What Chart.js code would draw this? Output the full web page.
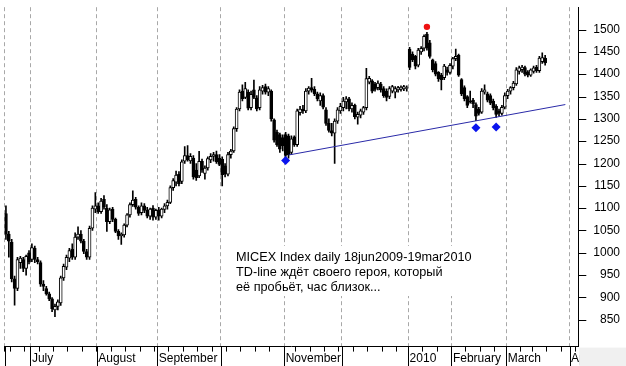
<!DOCTYPE html>
<html>
<head>
<meta charset="utf-8">
<script src="https://cdn.jsdelivr.net/npm/chart.js@4.4.1/dist/chart.umd.min.js"></script>
<style>
  html, body { margin: 0; padding: 0; background: #fff; }
  #wrap { width: 626px; height: 366px; }
</style>
</head>
<body>
<div id="wrap"><canvas id="micexChart" width="626" height="366"></canvas></div>
<script>
// trading days per month: [year, month, days]
const tradingDays = [
  [2009, 6, [18,19,22,23,24,25,26,29,30]],
  [2009, 7, [1,2,3,6,7,8,9,10,13,14,15,16,17,20,21,22,23,24,27,28,29,30,31]],
  [2009, 8, [3,4,5,6,7,10,11,12,13,14,17,18,19,20,21,24,25,26,27,28,31]],
  [2009, 9, [1,2,3,4,7,8,9,10,11,14,15,16,17,18,21,22,23,24,25,28,29,30]],
  [2009, 10, [1,2,5,6,7,8,9,12,13,14,15,16,19,20,21,22,23,26,27,28,29,30]],
  [2009, 11, [2,3,5,6,9,10,11,12,13,16,17,18,19,20,23,24,25,26,27,30]],
  [2009, 12, [1,2,3,4,7,8,9,10,11,14,15,16,17,18,21,22,23,24,25,28,29,30,31]],
  [2010, 1, [11,12,13,14,15,18,19,20,21,22,25,26,27,28,29]],
  [2010, 2, [1,2,3,4,5,8,9,10,11,12,15,16,17,18,19,22,24,25,26]],
  [2010, 3, [1,2,3,4,5,9,10,11,12,15,16,17,18,19]]
];
// empty slots to the right of the last bar
const futureDays = [
  [2010, 3, [22,23,24,25,26,29,30,31]],
  [2010, 4, [1,2,5]]
];
const monthLabels = ['', 'July', 'August', 'September', '', 'November', '', '2010', 'February', 'March', 'April'];

const opens = [
  1088,1042,1024,942,920,978,985,965,1000,
  985,1010,985,978,930,920,908,897,872,880,888,944,968,988,1008,990,1035,1042,1026,1003,990,1055,1098,
  1105,1092,1120,1100,1070,1098,1075,1048,1038,1040,1062,1085,1108,1120,1102,1090,1105,1095,1082,1100,1080,
  1096,1082,1097,1105,1113,1146,1158,1176,1160,1205,1218,1206,1212,1185,1172,1205,1178,1190,1208,1216,1220,1212,
  1210,1195,1176,1220,1228,1278,1322,1362,1348,1360,1325,1365,1347,1325,1362,1372,1360,1362,1298,1270,1265,1258,
  1265,1262,1225,1260,1242,1314,1322,1318,1362,1370,1366,1356,1340,1352,1320,1290,1274,1268,1295,1318,
  1325,1338,1345,1322,1330,1304,1308,1315,1325,1382,1385,1378,1370,1378,1368,1362,1350,1362,1360,1365,1366,1367,1368,
  1456,1445,1440,1420,1450,1458,1490,1470,1432,1424,1404,1398,1392,1410,1404,
  1418,1435,1442,1388,1370,1350,1340,1342,1332,1322,1315,1360,1356,1352,1340,1328,1318,1312,1326,
  1352,1362,1370,1378,1406,1410,1415,1405,1398,1406,1416,1408,1428,1436
];
const highs = [
  1105,1048,1030,948,990,992,990,995,1005,
  1020,1015,990,982,938,925,912,900,885,895,948,975,995,1010,1020,1045,1058,1050,1030,1008,1060,1105,1135,
  1112,1122,1128,1108,1100,1102,1078,1052,1045,1065,1088,1112,1139,1124,1105,1112,1110,1102,1100,1106,1098,
  1102,1100,1110,1118,1150,1166,1183,1182,1208,1238,1240,1222,1218,1200,1227,1210,1195,1215,1222,1225,1228,1220,
  1215,1200,1225,1232,1282,1325,1365,1376,1382,1365,1362,1387,1352,1372,1375,1378,1372,1365,1300,1275,1268,1264,
  1270,1266,1262,1262,1322,1328,1330,1368,1372,1391,1372,1360,1358,1356,1325,1300,1290,1300,1325,1335,
  1348,1350,1348,1336,1333,1315,1322,1328,1413,1395,1388,1382,1385,1382,1372,1367,1372,1375,1372,1373,1374,1375,1374,
  1460,1450,1442,1458,1462,1488,1494,1476,1434,1428,1406,1402,1422,1416,1424,
  1438,1456,1445,1390,1374,1352,1362,1346,1336,1326,1368,1376,1360,1356,1344,1332,1322,1330,1358,
  1366,1372,1384,1415,1418,1420,1418,1408,1412,1418,1420,1440,1448,1442
];
const lows = [
  1030,990,935,883,915,965,958,950,975,
  980,978,975,925,915,905,893,868,857,872,882,938,962,980,985,985,1030,1022,998,985,985,1050,1090,
  1088,1088,1098,1048,1065,1070,1045,1030,1019,1035,1058,1080,1104,1098,1084,1085,1090,1078,1075,1073,1075,
  1073,1078,1090,1098,1110,1140,1150,1150,1155,1200,1205,1200,1165,1162,1168,1180,1165,1185,1202,1205,1200,1195,
  1150,1170,1172,1212,1225,1272,1318,1340,1345,1320,1320,1345,1318,1320,1355,1355,1352,1295,1248,1238,1225,1228,
  1207,1212,1220,1238,1238,1308,1312,1314,1355,1360,1352,1340,1330,1322,1285,1270,1262,1200,1290,1312,
  1318,1322,1318,1315,1300,1288,1302,1310,1320,1378,1358,1362,1365,1360,1348,1340,1345,1358,1347,1360,1362,1363,1362,
  1410,1428,1412,1416,1444,1452,1454,1436,1405,1396,1384,1365,1388,1398,1400,
  1412,1430,1395,1352,1340,1325,1335,1325,1296,1308,1312,1355,1338,1332,1320,1303,1306,1308,1322,
  1345,1355,1365,1375,1400,1404,1396,1394,1395,1402,1404,1404,1424,1420
];
const closes = [
  1042,1026,942,920,985,988,965,992,980,
  1012,985,980,930,925,908,897,875,880,890,944,970,990,1005,990,1035,1042,1026,1003,990,1055,1100,1105,
  1092,1116,1102,1070,1096,1075,1048,1038,1042,1062,1085,1108,1118,1102,1088,1105,1095,1082,1098,1080,1095,
  1082,1098,1105,1113,1146,1162,1174,1155,1204,1218,1208,1216,1170,1168,1205,1185,1190,1211,1216,1220,1204,1198,
  1175,1176,1220,1228,1278,1322,1360,1345,1368,1324,1355,1348,1322,1365,1370,1360,1368,1300,1252,1242,1232,1240,
  1218,1220,1255,1242,1318,1322,1318,1362,1369,1364,1356,1345,1352,1326,1290,1274,1268,1295,1320,1328,
  1340,1345,1322,1330,1305,1310,1318,1325,1390,1391,1362,1366,1380,1365,1352,1348,1368,1372,1368,1370,1371,1372,1370,
  1415,1432,1418,1454,1458,1485,1458,1440,1410,1400,1390,1388,1418,1404,1420,
  1435,1440,1398,1356,1345,1330,1338,1334,1306,1312,1362,1365,1342,1335,1325,1310,1312,1326,1352,
  1362,1370,1380,1410,1414,1416,1400,1398,1410,1414,1408,1436,1437,1425
];

// TD-line and its marks
const tdLineDates = ['2009-11-03', '2010-03-30'];
const tdLineValues = [1219, 1332];
const tdPointDates = ['2009-11-02', '2010-02-11', '2010-02-22'];
const tdPointValues = [1207, 1280, 1282];
const peakDates = ['2010-01-19'];
const peakValues = [1506];

const noteLines = [
  'MICEX Index daily 18jun2009-19mar2010',
  'TD-line ждёт своего героя, который',
  'её пробьёт, час близок...'
];

// build category labels, month starts and week starts
const labels = [];
const monthStart = {};
const weekStart = {};
let prevKey = null, prevDow = 9, m = -1;
tradingDays.concat(futureDays).forEach(([yr, mo, days]) => {
  days.forEach(d => {
    const i = labels.length;
    const key = yr * 100 + mo;
    if (key !== prevKey) { m++; monthStart[i] = monthLabels[m]; prevKey = key; }
    const dow = new Date(yr, mo - 1, d).getDay();
    if (dow <= prevDow) weekStart[i] = true;
    prevDow = dow;
    labels.push(yr + '-' + String(mo).padStart(2, '0') + '-' + String(d).padStart(2, '0'));
  });
});

const extras = {
  id: 'extras',
  afterDraw(chart) {
    const { ctx, chartArea: a, scales: { x, y } } = chart;
    ctx.save();
    ctx.strokeStyle = '#000';
    ctx.lineWidth = 1;
    // price axis ticks, longer every 50
    y.ticks.forEach(t => {
      const py = Math.round(y.getPixelForValue(t.value)) + 0.5;
      const len = t.value % 50 === 0 ? 8 : 4;
      ctx.beginPath(); ctx.moveTo(a.right, py); ctx.lineTo(a.right + len, py); ctx.stroke();
    });
    // month separators under the time axis
    const half = (x.getPixelForValue(1) - x.getPixelForValue(0)) / 2;
    Object.keys(monthStart).forEach(i => {
      const px = Math.round(x.getPixelForValue(+i) - half) + 0.5;
      ctx.beginPath(); ctx.moveTo(px, a.bottom); ctx.lineTo(px, chart.height); ctx.stroke();
    });
    ctx.fillStyle = '#f0f0f0';
    ctx.fillRect(a.right + 1, a.bottom + 1, chart.width - a.right, chart.height - a.bottom);
    // note
    ctx.fillStyle = '#fff';
    ctx.fillRect(233, 246, 246, 50);
    ctx.fillStyle = '#000';
    ctx.font = '12.7px Arial, "Liberation Sans", sans-serif';
    ctx.textBaseline = 'alphabetic';
    noteLines.forEach((s, i) => ctx.fillText(s, 236, 261 + i * 15));
    ctx.restore();
  }
};

Chart.defaults.font.family = 'Arial, "Liberation Sans", sans-serif';
Chart.defaults.font.size = 12;
Chart.defaults.color = '#000';

var ctx = document.getElementById('micexChart').getContext('2d');
var myChart = new Chart(ctx, {
  type: 'bar',
  data: {
    labels: labels,
    datasets: [
      {
        label: 'wick',
        data: lows.map((l, i) => [l, highs[i]]),
        backgroundColor: '#000',
        barThickness: 1,
        grouped: false,
        order: 3
      },
      {
        label: 'body',
        data: opens.map((o, i) => [o, closes[i]]),
        backgroundColor: opens.map((o, i) => closes[i] >= o ? '#fff' : '#000'),
        borderColor: '#000',
        borderWidth: 1,
        borderSkipped: false,
        barThickness: 3,
        grouped: false,
        order: 2
      },
      {
        type: 'line',
        label: 'TD-line',
        data: tdLineDates.map((d, i) => ({ x: d, y: tdLineValues[i] })),
        borderColor: '#2a2aa8',
        borderWidth: 1,
        pointRadius: 0,
        order: 1
      },
      {
        type: 'line',
        label: 'TD points',
        data: tdPointDates.map((d, i) => ({ x: d, y: tdPointValues[i] })),
        showLine: false,
        pointStyle: 'rectRot',
        pointRadius: 4.5,
        pointBackgroundColor: '#0a14ee',
        pointBorderColor: '#0a14ee',
        pointBorderWidth: 0,
        order: 0
      },
      {
        type: 'line',
        label: 'peak',
        data: peakDates.map((d, i) => ({ x: d, y: peakValues[i] })),
        showLine: false,
        pointStyle: 'circle',
        pointRadius: 3.2,
        pointBackgroundColor: '#ee1111',
        pointBorderColor: '#ee1111',
        pointBorderWidth: 0,
        order: 0
      }
    ]
  },
  options: {
    responsive: false,
    animation: false,
    events: [],
    layout: { padding: { top: 0, left: 0, bottom: 0, right: 6 } },
    plugins: { legend: { display: false }, tooltip: { enabled: false } },
    scales: {
      x: {
        offset: true,
        grid: {
          offset: true,
          drawOnChartArea: true,
          tickLength: 5,
          color: c => (c.index in monthStart) ? '#a8a8a8' : 'transparent',
          tickColor: c => weekStart[c.index] ? '#000' : 'transparent'
        },
        border: { display: true, color: '#000', dash: [4, 3] },
        ticks: {
          autoSkip: false,
          maxRotation: 0,
          minRotation: 0,
          padding: 0,
          align: 'start',
          callback: (v, i) => (i in monthStart) ? monthStart[i] : ''
        }
      },
      y: {
        position: 'right',
        min: 790,
        max: 1550,
        afterBuildTicks: axis => { axis.ticks = axis.ticks.filter(t => t.value % 10 === 0); },
        grid: { drawOnChartArea: false, tickLength: 15, tickColor: 'transparent' },
        border: { display: true, color: '#000' },
        ticks: {
          stepSize: 10,
          autoSkip: false,
          includeBounds: false,
          padding: 0,
          crossAlign: 'far',
          callback: v => (v % 50 === 0 && v >= 850 && v <= 1500) ? String(v) : null
        }
      }
    }
  },
  plugins: [extras]
});
</script>
</body>
</html>
